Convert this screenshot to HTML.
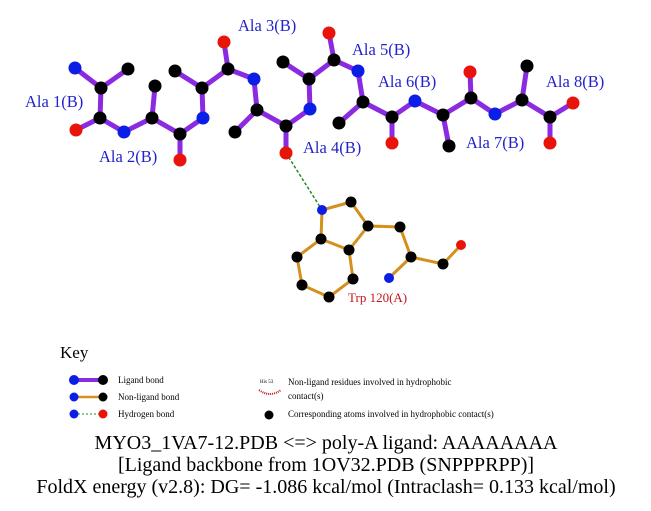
<!DOCTYPE html><html><head><style>body{margin:0;background:#fff}svg{display:block}</style></head><body>
<svg width="651" height="511" xmlns="http://www.w3.org/2000/svg" font-family="Liberation Serif, serif">
<g stroke="#8a2be2" stroke-width="5" stroke-linecap="round" fill="none">
<path d="M75 68L101 88M128 69L101 88M101 88L100 118M100 118L76 130M100 118L124 132M124 132L152 118M152 118L155 86M152 118L180 134M180 134L180 160M180 134L203 118M203 118L202 88M202 88L175 71M202 88L228 69M228 69L224 42M228 69L254 79M254 79L257 110M257 110L235 132M257 110L286 126M286 126L286 153M286 126L310 109M310 109L309 79M309 79L283 62M309 79L334 60M334 60L329 33M334 60L358 71M358 71L363 102M363 102L339 123M363 102L392 117M392 117L392 143M392 117L415 101M415 101L443 115M443 115L449 146M443 115L471 98M471 98L470 72M471 98L495 114M495 114L522 100M522 100L527 66M522 100L550 117M550 117L573 103M550 117L550 143"/>
</g>
<line x1="286" y1="153" x2="322" y2="210" stroke="#228b22" stroke-width="1.5" stroke-dasharray="3,2"/>
<g stroke="#d4901e" stroke-width="3" fill="none">
<path d="M322 210L351 202L368 226L400 227L411 257M411 257L443 264L461 245M368 226L349 250L321 239L322 210M321 239L297 257L302 285L329 297L353 279L349 250"/>
<line x1="411" y1="257" x2="389" y2="278"/>
</g>
<g fill="#000">
<circle cx="128" cy="69" r="6.5"/><circle cx="101" cy="88" r="6.5"/><circle cx="100" cy="118" r="6.5"/><circle cx="152" cy="118" r="6.5"/><circle cx="155" cy="86" r="6.5"/><circle cx="180" cy="134" r="6.5"/><circle cx="202" cy="88" r="6.5"/><circle cx="175" cy="71" r="6.5"/><circle cx="228" cy="69" r="6.5"/><circle cx="257" cy="110" r="6.5"/><circle cx="235" cy="132" r="6.5"/><circle cx="286" cy="126" r="6.5"/><circle cx="309" cy="79" r="6.5"/><circle cx="283" cy="62" r="6.5"/><circle cx="334" cy="60" r="6.5"/><circle cx="363" cy="102" r="6.5"/><circle cx="339" cy="123" r="6.5"/><circle cx="392" cy="117" r="6.5"/><circle cx="443" cy="115" r="6.5"/><circle cx="449" cy="146" r="6.5"/><circle cx="471" cy="98" r="6.5"/><circle cx="522" cy="100" r="6.5"/><circle cx="527" cy="66" r="6.5"/><circle cx="550" cy="117" r="6.5"/>
<circle cx="351" cy="202" r="5.5"/><circle cx="368" cy="226" r="5.5"/><circle cx="400" cy="227" r="5.5"/><circle cx="411" cy="257" r="5.5"/><circle cx="443" cy="264" r="5.5"/><circle cx="349" cy="250" r="5.5"/><circle cx="321" cy="239" r="5.5"/><circle cx="297" cy="257" r="5.5"/><circle cx="302" cy="285" r="5.5"/><circle cx="329" cy="297" r="5.5"/><circle cx="353" cy="279" r="5.5"/>
</g>
<g fill="#0a1ee6">
<circle cx="75" cy="68" r="6.5"/><circle cx="124" cy="132" r="6.5"/><circle cx="203" cy="118" r="6.5"/><circle cx="254" cy="79" r="6.5"/><circle cx="310" cy="109" r="6.5"/><circle cx="358" cy="71" r="6.5"/><circle cx="415" cy="101" r="6.5"/><circle cx="495" cy="114" r="6.5"/>
<circle cx="322" cy="210" r="5"/><circle cx="389" cy="278" r="5"/>
</g>
<g fill="#e8140a">
<circle cx="76" cy="130" r="6.5"/><circle cx="180" cy="160" r="6.5"/><circle cx="224" cy="42" r="6.5"/><circle cx="286" cy="153" r="6.5"/><circle cx="329" cy="33" r="6.5"/><circle cx="392" cy="143" r="6.5"/><circle cx="470" cy="72" r="6.5"/><circle cx="573" cy="103" r="6.5"/><circle cx="550" cy="143" r="6.5"/>
<circle cx="461" cy="245" r="5"/>
</g>
<g fill="#2222cc" font-size="16.5">
<text x="25" y="107">Ala 1(B)</text><text x="99" y="162">Ala 2(B)</text><text x="238" y="31">Ala 3(B)</text><text x="303" y="153">Ala 4(B)</text><text x="352" y="55">Ala 5(B)</text><text x="378" y="87">Ala 6(B)</text><text x="466" y="148">Ala 7(B)</text><text x="546" y="87">Ala 8(B)</text>
</g>
<text x="348" y="302" fill="#c8141e" font-size="13">Trp 120(A)</text>
<text x="60" y="358" font-size="17">Key</text>
<line x1="74" y1="380" x2="103" y2="380" stroke="#8a2be2" stroke-width="4"/><circle cx="74" cy="380" r="5" fill="#0a1ee6"/><circle cx="103" cy="380" r="5"/>
<line x1="74" y1="397" x2="103" y2="397" stroke="#d4901e" stroke-width="2.5"/><circle cx="74" cy="397" r="4.5" fill="#0a1ee6"/><circle cx="103" cy="397" r="4.5"/>
<line x1="74" y1="414" x2="103" y2="414" stroke="#228b22" stroke-width="1" stroke-dasharray="2,2"/><circle cx="74" cy="414" r="4.5" fill="#0a1ee6"/><circle cx="103" cy="414" r="4.5" fill="#e8140a"/>
<g font-size="9"><text x="118" y="383">Ligand bond</text><text x="118" y="400">Non-ligand bond</text><text x="118" y="417">Hydrogen bond</text>
<text x="288" y="385">Non-ligand residues involved in hydrophobic</text><text x="288" y="399">contact(s)</text><text x="288" y="417">Corresponding atoms involved in hydrophobic contact(s)</text></g>
<text x="260" y="383" font-size="5">His 53</text>
<path d="M259 390 Q270 398 281 390" stroke="#c8141e" fill="none" stroke-width="2" stroke-dasharray="1,1"/>
<circle cx="269" cy="415" r="4.5"/>
<g font-size="20" text-anchor="middle"><text x="326" y="449">MYO3_1VA7-12.PDB &lt;=&gt; poly-A ligand: AAAAAAAA</text><text x="326" y="471">[Ligand backbone from 1OV32.PDB (SNPPPRPP)]</text><text x="326" y="493">FoldX energy (v2.8): DG= -1.086 kcal/mol (Intraclash= 0.133 kcal/mol)</text></g>
</svg></body></html>
